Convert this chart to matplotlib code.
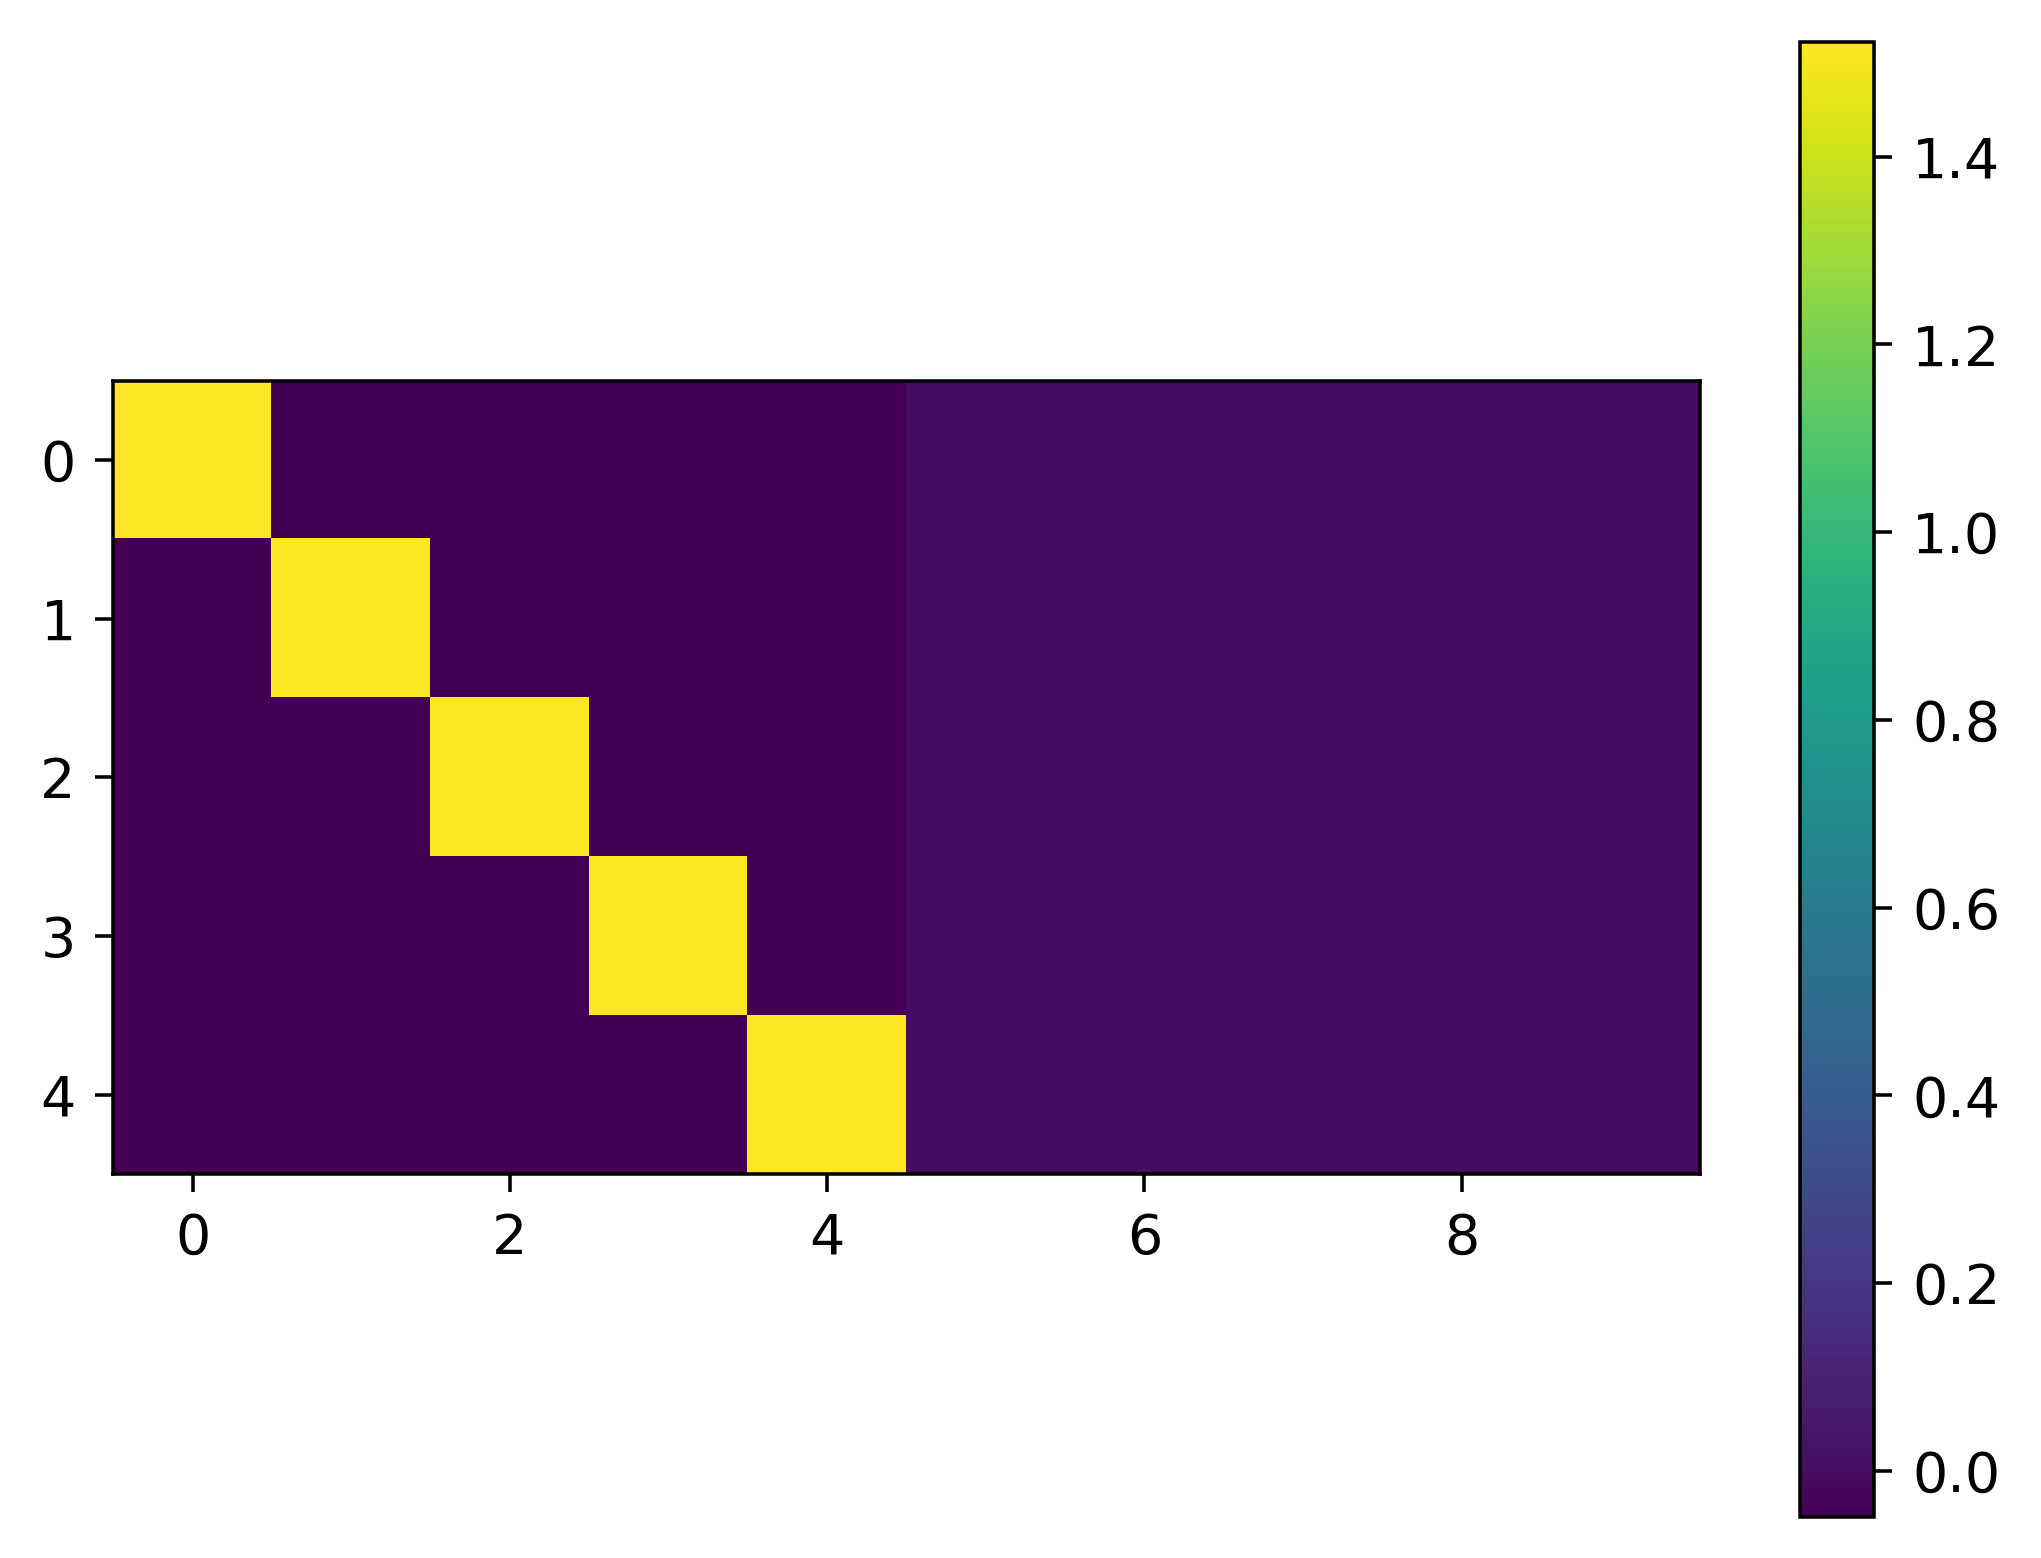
import numpy as np
import matplotlib
matplotlib.use("Agg")
import matplotlib.pyplot as plt

# cell values (5 rows x 10 columns)
DIAG_VALUE = 1.52
LEFT_OFF = -0.049
RIGHT_BLOCK = [
    [0.004, 0.002, 0.003, 0.001, 0.003],
    [0.004, 0.002, 0.001, 0.002, 0.003],
    [0.003, 0.002, 0.001, 0.002, 0.002],
    [0.004, 0.003, 0.002, 0.002, 0.003],
    [0.004, 0.003, 0.002, 0.002, 0.003],
]
ROW_TICKS = [0, 1, 2, 3, 4]
COL_TICKS = [0, 2, 4, 6, 8]

plt.rcParams["font.size"] = 12.5
plt.rcParams["xtick.major.size"] = 4
plt.rcParams["ytick.major.size"] = 4
plt.rcParams["xtick.major.pad"] = 4.5
plt.rcParams["ytick.major.pad"] = 4.5

left = np.full((5, 5), LEFT_OFF)
np.fill_diagonal(left, DIAG_VALUE)
data = np.hstack([left, np.array(RIGHT_BLOCK)])

fig = plt.figure(figsize=(2041 / 320, 1558 / 320), dpi=320)
ax = fig.add_axes([0.0554, 0.2465, 0.7775, 0.509])
im = ax.imshow(data, cmap="viridis", vmin=-0.049, vmax=1.522)
ax.set_xticks(COL_TICKS)
ax.set_yticks(ROW_TICKS)

cax = fig.add_axes([0.882, 0.0263, 0.0363, 0.9467])
fig.colorbar(im, cax=cax)

fig.savefig("out.png", dpi=320)
